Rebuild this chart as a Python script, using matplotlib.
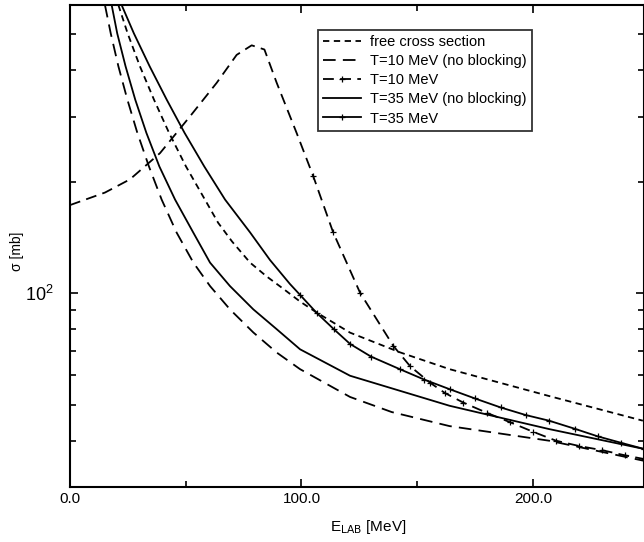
import numpy as np
import matplotlib
matplotlib.use("Agg")
import matplotlib.pyplot as plt
from matplotlib.ticker import FixedLocator, NullFormatter, LogLocator, LogFormatterMathtext

# free cross section
e_free = [20.9, 24.9, 30.2, 36.3, 42.8, 50.1, 58.3, 64.0, 70.0, 77.8, 85.0, 92.0, 99.4,
          106.6, 121.0, 142.5, 164.0, 207.0, 247.5]
s_free = [600, 503, 410, 333, 271, 220, 179, 155, 138, 121, 111, 103, 95,
          88.7, 78.3, 69.3, 62.4, 52.8, 45.3]

# T=10 MeV (no blocking)
e_t10nb = [15.1, 17.6, 20.9, 24.8, 29.1, 34.1, 39.6, 46.1, 53.3, 60.5, 69.1, 79.2, 89.3,
           99.4, 121.0, 139.0, 164.0, 207.0, 248.0]
s_t10nb = [600, 503, 410, 333, 271, 220, 179, 145.7, 121, 104.6, 90.5, 78.4, 69.2,
           62.4, 52.5, 47.8, 43.8, 40.0, 35.3]

# T=10 MeV
e_t10 = [0.0, 15.1, 25.9, 38.9, 51.8, 63.4, 72.0, 78.5, 84.0, 89.3, 97.9, 105.1, 113.7,
         125.3, 139.7, 147.0, 155.5, 162.0, 169.9, 180.0, 190.0, 200.0, 210.0, 220.0,
         230.0, 240.0, 248.0]
s_t10 = [173, 187, 203, 239, 300, 370, 440, 467, 455, 370, 271, 207, 146,
         100.4, 72.1, 63.5, 57.4, 53.8, 50.7, 47.6, 44.9, 42.3, 40.0, 38.7,
         37.7, 36.5, 35.7]

# T=35 MeV (no blocking)
e_t35nb = [18.0, 20.4, 24.0, 28.2, 33.0, 38.6, 45.4, 53.3, 60.5, 69.1, 79.2, 89.3, 99.4,
           121.0, 164.0, 207.0, 248.0]
s_t35nb = [600, 503, 410, 333, 271, 220, 179, 145.7, 121, 104.6, 90.5, 80, 70.6,
           59.9, 49.7, 43.0, 38.0]

# T=35 MeV
e_t35 = [22.3, 27.6, 34.4, 41.8, 49.5, 58.0, 67.0, 77.8, 86.4, 95.0, 99.4, 106.6, 114.0,
         121.0, 130.0, 142.5, 153.0, 164.0, 175.0, 186.0, 197.0, 207.0, 218.0, 228.0,
         238.0, 248.0]
s_t35 = [600, 503, 410, 333, 271, 220, 179, 146, 123, 106, 99, 88.5, 80.0,
         73.0, 67.5, 62.4, 58.5, 55.1, 52.0, 49.2, 46.9, 45.3, 43.1, 41.1,
         39.5, 38.0]

legend_labels = ["free cross section", "T=10 MeV (no blocking)", "T=10 MeV",
                 "T=35 MeV (no blocking)", "T=35 MeV"]

plt.rcParams['font.family'] = ['Liberation Sans', 'DejaVu Sans']

fig = plt.figure(figsize=(6.44, 5.42), dpi=100)
ax = fig.add_axes([70 / 644, 1 - 487 / 542, 1 - 70 / 644, 482 / 542])

lw = 1.3
ax.plot(e_free, s_free, color='black', lw=lw, dashes=(3.5, 2.5), label=legend_labels[0])
ax.plot(e_t10nb, s_t10nb, color='black', lw=lw, dashes=(7, 4), label=legend_labels[1])
ax.plot(e_t10, s_t10, color='black', lw=lw, dashes=(6, 3.5), marker='+', ms=4, mew=0.9,
        markevery=slice(11, None), label=legend_labels[2])
ax.plot(e_t35nb, s_t35nb, color='black', lw=lw, label=legend_labels[3])
ax.plot(e_t35, s_t35, color='black', lw=lw, marker='+', ms=4, mew=0.9,
        markevery=slice(10, None), label=legend_labels[4])

ax.set_yscale('log')
ax.set_xlim(0, 248)
ax.set_ylim(30, 600)

ax.xaxis.set_major_locator(FixedLocator([0, 100, 200]))
ax.xaxis.set_minor_locator(FixedLocator([50, 150]))
ax.set_xticklabels(["0.0", "100.0", "200.0"])
ax.yaxis.set_major_locator(LogLocator(base=10))
ax.yaxis.set_major_formatter(LogFormatterMathtext())
ax.yaxis.set_minor_locator(LogLocator(base=10, subs=np.arange(2, 10)))
ax.yaxis.set_minor_formatter(NullFormatter())

ax.tick_params(which='both', direction='in', top=True, right=True, labelsize=11, width=1.2)
ax.tick_params(axis='y', which='major', labelsize=13, pad=12)
ax.tick_params(which='major', length=6)
ax.tick_params(which='minor', length=4)
for sp in ax.spines.values():
    sp.set_linewidth(1.5)

ax.set_xlabel(r"E$_{\rm LAB}$ [MeV]", fontsize=11)
ax.xaxis.set_label_coords(0.52, -0.064)
ax.set_ylabel("σ [mb]", fontsize=10)
ax.yaxis.set_label_coords(-0.08, 0.49)

leg = ax.legend(loc='upper left', bbox_to_anchor=((318 - 70) / 574, (487 - 30) / 482),
                fontsize=10.5, frameon=True, fancybox=False, handlelength=2.6,
                borderpad=0.35, labelspacing=0.35, handletextpad=0.6, borderaxespad=0)
leg.get_frame().set_edgecolor('black')
leg.get_frame().set_linewidth(1.3)

fig.savefig("out.png", dpi=100)
